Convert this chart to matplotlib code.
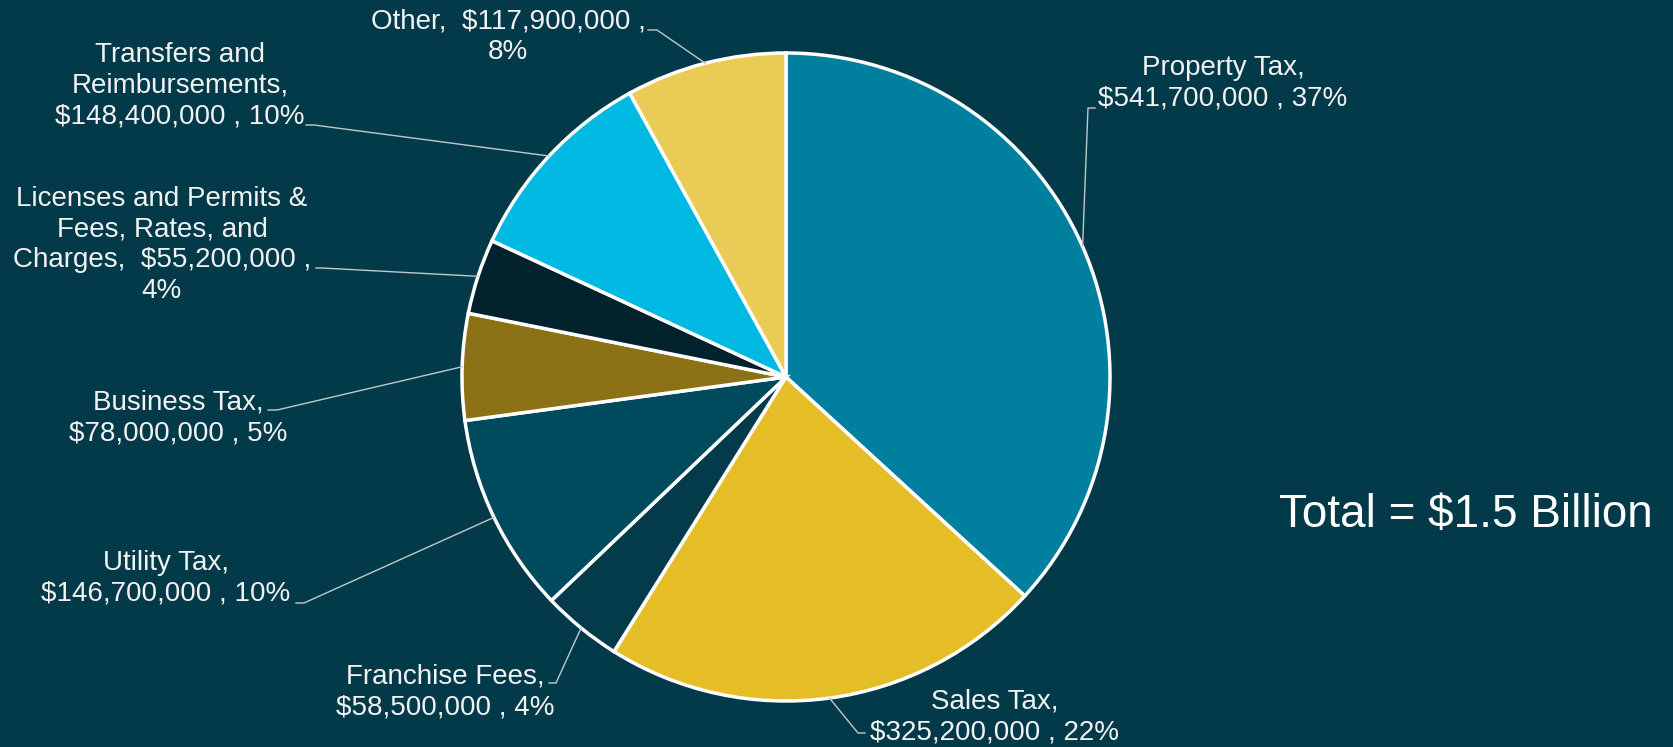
#!/bin/env python3

'''
General fund revenue sources pie chart
'''

import numpy as np
import matplotlib.pyplot as plt

plt.rcParams['font.family'] = ['Liberation Sans', 'DejaVu Sans']

##############################################################
# Data
##############################################################
categories = ["Property Tax", "Sales Tax", "Franchise Fees", "Utility Tax",
              "Business Tax", "Licenses and Permits & Fees, Rates, and Charges",
              "Transfers and Reimbursements", "Other"]
revenue = [541_700_000, 325_200_000, 58_500_000, 146_700_000,
           78_000_000, 55_200_000, 148_400_000, 117_900_000]
colors = ["#00809E", "#E5BD26", "#033B4B", "#004A5E",
          "#8D7116", "#02222D", "#00B9E2", "#E9CB55"]

# how each label is broken over lines
label_fmt = [
    "Property Tax,\n{val} , {pct}",
    "Sales Tax,\n{val} , {pct}",
    "Franchise Fees,\n{val} , {pct}",
    "Utility Tax,\n{val} , {pct}",
    "Business Tax,\n{val} , {pct}",
    "Licenses and Permits &\nFees, Rates, and\nCharges,  {val} ,\n{pct}",
    "Transfers and\nReimbursements,\n{val} , {pct}",
    "Other,  {val} ,\n{pct}",
]
total_text = "Total = $1.5 Billion"

##############################################################
# Layout (pixels, y measured from the top)
##############################################################
W, H = 1673, 747
BG = "#023A4A"
center = (786, 377)
radius = 324

# label centre, then the short tick drawn next to the text
label_pos = [(1223, 83), (995, 717), (445, 692), (166, 578),
             (178, 418), (162, 245), (180, 86), (508, 37)]
tick_pos = [((1095, 108), (1088, 108)), ((865, 733), (858, 733)),
            ((549, 683), (556, 683)), ((296, 603), (304, 603)),
            ((268, 410), (277, 410)), ((316, 268), (322, 268)),
            ((306, 125), (314, 125)), ((648, 30), (657, 30))]


def draw_chart():
    fig = plt.figure(figsize=(W / 100, H / 100), dpi=100, facecolor=BG)
    ax = fig.add_axes([0, 0, 1, 1])
    ax.set_facecolor(BG)

    ax.pie(revenue, colors=colors, center=center, radius=radius,
           startangle=-90, counterclock=True,
           wedgeprops=dict(edgecolor="white", linewidth=2.5))

    ax.set_xlim(0, W)
    ax.set_ylim(H, 0)
    ax.set_aspect("equal")
    ax.axis("off")

    total = sum(revenue)
    fracs = np.array(revenue) / total
    mids = -90 + (np.cumsum(fracs) - fracs / 2) * 360

    for i, v in enumerate(revenue):
        txt = label_fmt[i].format(val=f"${v:,.0f}", pct=f"{fracs[i] * 100:.0f}%")
        ax.text(*label_pos[i], txt, color="#F2F2F2", fontsize=20,
                ha="center", va="center", linespacing=1.23)

        th = np.deg2rad(mids[i])
        ex = center[0] + radius * np.cos(th)
        ey = center[1] + radius * np.sin(th)
        (x0, y0), (x1, y1) = tick_pos[i]
        ax.plot([x0, x1, ex], [y0, y1, ey], color="#BFC9CC", lw=1.0,
                solid_joinstyle="miter")

    ax.text(1466, 515, total_text, color="white", fontsize=33,
            ha="center", va="center")

    fig.savefig("out.png", dpi=100, facecolor=BG)


##############################################################
# Main
##############################################################
if (__name__ == "__main__"):
    draw_chart()
